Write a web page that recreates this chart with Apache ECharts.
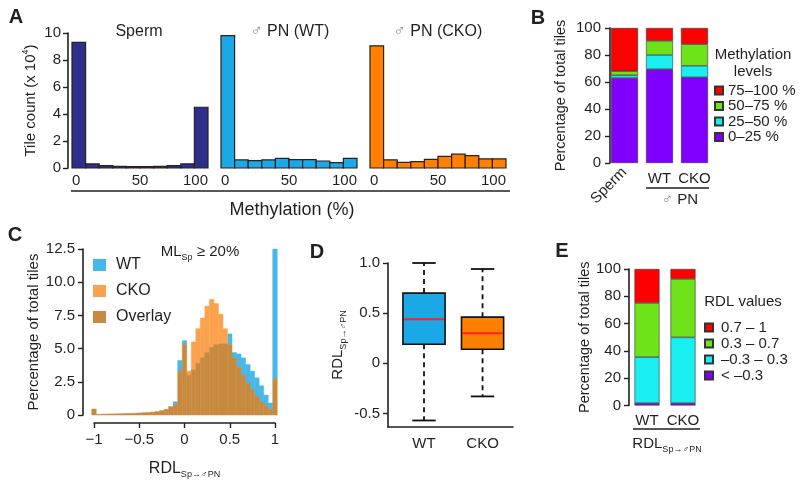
<!DOCTYPE html>
<html><head><meta charset="utf-8">
<script src="https://cdn.jsdelivr.net/npm/echarts@6/dist/echarts.min.js"></script>
<style>html,body{margin:0;padding:0;background:#fff}#c{width:800px;height:485px}</style>
</head><body><div id="c"></div>
<script>
// ---------- Panel A: methylation histograms (tile count x 10^4) ----------
const methBinStarts = [0, 10, 20, 30, 40, 50, 60, 70, 80, 90];
const methBinWidth = 10;
const spermCounts = [9.3, 0.3, 0.18, 0.12, 0.1, 0.1, 0.12, 0.17, 0.3, 4.5];
const wtCounts    = [9.8, 0.6, 0.55, 0.6, 0.72, 0.62, 0.62, 0.52, 0.4, 0.72];
const ckoCounts   = [9.05, 0.6, 0.42, 0.47, 0.64, 0.86, 1.03, 0.92, 0.68, 0.68];
const histTitles  = ['Sperm', '♂ PN (WT)', '♂ PN (CKO)'];

// ---------- Panel B: methylation levels (% of total tiles) ----------
const bCategories = ['Sperm', 'WT', 'CKO'];
const bLevels  = ['0–25 %', '25–50 %', '50–75 %', '75–100 %'];
const b0_25    = [63, 69.5, 63.5];
const b25_50   = [2, 10.5, 8.5];
const b50_75   = [3, 10.5, 16];
const b75_100  = [32, 9.5, 12];

// ---------- Panel C: RDL histogram (% of total tiles) ----------
const rdlBinWidth = 0.05;
const rdlBinCenters = [-1, -0.95, -0.9, -0.85, -0.8, -0.75, -0.7, -0.65, -0.6, -0.55, -0.5,
  -0.45, -0.4, -0.35, -0.3, -0.25, -0.2, -0.15, -0.1, -0.05, 0,
  0.05, 0.1, 0.15, 0.2, 0.25, 0.3, 0.35, 0.4, 0.45, 0.5,
  0.55, 0.6, 0.65, 0.7, 0.75, 0.8, 0.85, 0.9, 0.95, 1];
const rdlWT = [0.45, 0.05, 0.06, 0.07, 0.08, 0.09, 0.1, 0.11, 0.12, 0.13, 0.15,
  0.17, 0.19, 0.22, 0.26, 0.33, 0.43, 0.62, 1.0, 4.1, 5.6,
  3.0, 3.4, 3.9, 4.3, 4.7, 5.1, 5.3, 5.35, 5.35, 6.1,
  4.7, 4.6, 4.3, 3.8, 3.3, 2.8, 2.2, 1.5, 0.9, 12.5];
const rdlCKO = [0.45, 0.05, 0.06, 0.07, 0.08, 0.09, 0.1, 0.11, 0.12, 0.13, 0.15,
  0.17, 0.19, 0.22, 0.26, 0.33, 0.43, 0.6, 0.8, 3.3, 5.3,
  3.3, 5.5, 6.5, 7.3, 8.2, 8.7, 8.4, 7.6, 6.5, 5.3,
  4.3, 3.6, 3.0, 2.4, 1.9, 1.4, 1.0, 0.7, 0.4, 2.7];
const rdlTicks = [-1, -0.5, 0, 0.5, 1];

// ---------- Panel D: RDL boxplot [min, Q1, median, Q3, max] ----------
const boxCategories = ['WT', 'CKO'];
const boxWT  = [-0.57, 0.19, 0.44, 0.70, 1.0];
const boxCKO = [-0.33, 0.14, 0.30, 0.46, 0.94];
const boxTicks = [-0.5, 0, 0.5, 1];

// ---------- Panel E: RDL value classes (% of total tiles) ----------
const eCategories = ['WT', 'CKO'];
const eLevels   = ['< –0.3', '–0.3 – 0.3', '0.3 – 0.7', '0.7 – 1'];
const eLtNeg03  = [1.8, 1.8];
const eNeg03_03 = [33.7, 48.1];
const e03_07    = [39.6, 42.8];
const e07_1     = [24.9, 7.3];

// ================= styling / layout =================
const FONT = '"Liberation Sans", Arial, Helvetica, sans-serif';
const INK = '#231f20';
const axLine = {show: true, onZero: false, lineStyle: {color: INK, width: 1.6}};
const tickOut = {show: true, length: 5, lineStyle: {color: INK, width: 1.4}};
const lbl = (extra) => Object.assign({color: INK, fontSize: 15, fontFamily: FONT}, extra || {});
const noSplit = {show: false};
const levelColors = ['#7f00ff', '#19eef0', '#6ee31a', '#ff0000'];
const histColors = ['#2c2f8c', '#1aa8e6', '#ff8000'];
const cColors = {WT: '#46b8ea', CKO: '#fca24e', Overlay: '#c78a3f'};
const boxColors = ['#1aa8e6', '#ff8000'];

const grids = [
  {left: 72, top: 33, width: 136, height: 135},   // A sperm
  {left: 221, top: 33, width: 136, height: 135},  // A WT
  {left: 370, top: 33, width: 136, height: 135},  // A CKO
  {left: 607, top: 28, width: 105, height: 135},  // B
  {left: 94, top: 249, width: 181, height: 166},  // C
  {left: 388, top: 263, width: 125, height: 164}, // D
  {left: 629, top: 269, width: 72, height: 136.5} // E
];

const xAxes = [];
const yAxes = [];
// A axes
for (let g = 0; g < 3; g++) {
  xAxes.push({type: 'value', gridIndex: g, min: 0, max: 100, interval: 50,
    axisLine: {show: false}, axisTick: {show: false}, splitLine: noSplit,
    axisLabel: lbl({margin: 5, alignMinLabel: 'left', alignMaxLabel: 'right'})});
  yAxes.push({type: 'value', gridIndex: g, min: 0, max: 10, interval: 2, show: g === 0,
    offset: 4, axisLine: axLine, axisTick: tickOut, splitLine: noSplit,
    axisLabel: lbl({margin: 7}),
    name: g === 0 ? '{a|Tile count (x 10}{s|4}{a|)}' : '', nameLocation: 'middle', nameGap: 27,
    nameTextStyle: {rich: {a: {fontSize: 15, lineHeight: 20, color: INK, fontFamily: FONT},
      s: {fontSize: 9, lineHeight: 10, verticalAlign: 'top', color: INK, fontFamily: FONT}}}});
}
// B axes
xAxes.push({type: 'category', gridIndex: 3, data: bCategories, position: 'bottom',
  axisLine: {show: false}, axisTick: {show: false},
  axisLabel: lbl({rotate: 45, margin: 7, interval: 0, formatter: v => v === bCategories[0] ? v : ''})});
xAxes.push({type: 'category', gridIndex: 3, data: bCategories, position: 'bottom',
  axisLine: {show: false}, axisTick: {show: false},
  axisLabel: lbl({margin: 8, interval: 0, formatter: v => v === bCategories[0] ? '' : v})});
yAxes.push({type: 'value', gridIndex: 3, min: 0, max: 100, interval: 20, offset: -3,
  axisLine: axLine, axisTick: tickOut, splitLine: noSplit, axisLabel: lbl({margin: 9}),
  name: 'Percentage of total tiles', nameLocation: 'middle', nameGap: 42,
  nameTextStyle: {fontSize: 14.5, color: INK, fontFamily: FONT}});
// C axes
xAxes.push({type: 'value', gridIndex: 4, min: -1, max: 1, interval: 0.5, offset: 8,
  axisLine: axLine, axisTick: tickOut, splitLine: noSplit,
  axisLabel: lbl({margin: 9, formatter: v => v === 0 ? '0' : String(v).replace('-', '\u2212')}),
  name: '{a|RDL}{s|Sp→♂PN}', nameLocation: 'middle', nameGap: 36,
  nameTextStyle: {rich: {a: {fontSize: 16, lineHeight: 20, color: INK, fontFamily: FONT},
    s: {fontSize: 9, lineHeight: 10, verticalAlign: 'bottom', color: INK, fontFamily: FONT}}}});
yAxes.push({type: 'value', gridIndex: 4, min: 0, max: 12.5, interval: 2.5, offset: 11,
  axisLine: axLine, axisTick: tickOut, splitLine: noSplit,
  axisLabel: lbl({margin: 8, formatter: v => v === 0 ? '0' : v.toFixed(1)}),
  name: 'Percentage of total tiles', nameLocation: 'middle', nameGap: 42,
  nameTextStyle: {fontSize: 15, color: INK, fontFamily: FONT}});
// D axes
xAxes.push({type: 'value', gridIndex: 5, min: 0.385, max: 2.52,
  axisLine: axLine, axisTick: {show: false}, splitLine: noSplit,
  axisLabel: lbl({margin: 9, customValues: [1, 2], formatter: v => boxCategories[Math.round(v) - 1] || ''})});
yAxes.push({type: 'value', gridIndex: 5, min: -0.635, max: 1,
  axisLine: axLine, axisTick: Object.assign({customValues: boxTicks}, tickOut), splitLine: noSplit,
  axisLabel: lbl({margin: 8, customValues: boxTicks, formatter: v => v === 0 ? '0' : v.toFixed(1)}),
  name: '{a|RDL}{s|Sp→♂PN}', nameLocation: 'middle', nameGap: 40,
  nameTextStyle: {rich: {a: {fontSize: 15, lineHeight: 20, color: INK, fontFamily: FONT},
    s: {fontSize: 9, lineHeight: 10, verticalAlign: 'bottom', color: INK, fontFamily: FONT}}}});
// E axes
xAxes.push({type: 'category', gridIndex: 6, data: eCategories,
  axisLine: {show: false}, axisTick: {show: false}, axisLabel: lbl({margin: 8, interval: 0})});
yAxes.push({type: 'value', gridIndex: 6, min: 0, max: 100, interval: 20,
  axisLine: axLine, axisTick: tickOut, splitLine: noSplit, axisLabel: lbl({margin: 8}),
  name: 'Percentage of total tiles', nameLocation: 'middle', nameGap: 34,
  nameTextStyle: {fontSize: 14.5, color: INK, fontFamily: FONT}});

// ================= series =================
const series = [];
[spermCounts, wtCounts, ckoCounts].forEach((counts, g) => {
  series.push({type: 'custom', xAxisIndex: g, yAxisIndex: g, silent: true,
    data: methBinStarts.map((s, i) => [s, counts[i]]), encode: {x: 0, y: 1},
    renderItem: (p, api) => {
      const a = api.coord([api.value(0), api.value(1)]);
      const b = api.coord([api.value(0) + methBinWidth, 0]);
      return {type: 'rect', shape: {x: a[0], y: a[1], width: b[0] - a[0], height: b[1] - a[1]},
        style: {fill: histColors[g], stroke: '#2a201c', lineWidth: 1.2}};
    }});
});
[b0_25, b25_50, b50_75, b75_100].forEach((d, i) => {
  series.push({type: 'bar', name: bLevels[i], stack: 'B', xAxisIndex: 3, yAxisIndex: 3,
    barWidth: 27, data: d, itemStyle: {color: levelColors[i], borderColor: '#333', borderWidth: 0.6}});
});
const rdlData = rdlBinCenters.map((c, i) => [c, rdlWT[i], rdlCKO[i]]);
['WT', 'CKO', 'Overlay'].forEach(kind => {
  series.push({type: 'custom', name: kind, xAxisIndex: 5, yAxisIndex: 4, silent: true,
    itemStyle: {color: cColors[kind]}, data: rdlData, encode: {x: 0, y: [1, 2]},
    renderItem: (p, api) => {
      const x = api.value(0), wt = api.value(1), cko = api.value(2);
      let lo, hi;
      if (kind === 'Overlay') { lo = 0; hi = Math.min(wt, cko); }
      else if (kind === 'WT') { if (wt <= cko) return; lo = cko; hi = wt; }
      else { if (cko <= wt) return; lo = wt; hi = cko; }
      const a = api.coord([x - rdlBinWidth / 2, hi]);
      const b = api.coord([x + rdlBinWidth / 2, lo]);
      return {type: 'rect', shape: {x: a[0], y: a[1], width: b[0] - a[0], height: b[1] - a[1]},
        style: {fill: cColors[kind], stroke: cColors[kind], lineWidth: 0.5}};
    }});
});
series.push({type: 'custom', xAxisIndex: 6, yAxisIndex: 5, silent: true,
  data: [boxWT, boxCKO].map((b, i) => [i + 1].concat(b)), encode: {x: 0, y: [1, 2, 3, 4, 5]},
  renderItem: (p, api) => {
    const x = api.value(0);
    const y = k => api.coord([x, api.value(k)])[1];
    const cx = api.coord([x, 0])[0];
    const half = api.size([0.36, 0])[0], cap = api.size([0.2, 0])[0];
    const yLo = y(1), yQ1 = y(2), yMed = y(3), yQ3 = y(4), yHi = y(5);
    const dash = {stroke: '#111', lineWidth: 1.8, lineDash: [5, 4]};
    const solid = {stroke: '#111', lineWidth: 1.8};
    return {type: 'group', children: [
      {type: 'line', shape: {x1: cx, y1: yQ3, x2: cx, y2: yHi}, style: dash},
      {type: 'line', shape: {x1: cx, y1: yQ1, x2: cx, y2: yLo}, style: dash},
      {type: 'line', shape: {x1: cx - cap, y1: yHi, x2: cx + cap, y2: yHi}, style: solid},
      {type: 'line', shape: {x1: cx - cap, y1: yLo, x2: cx + cap, y2: yLo}, style: solid},
      {type: 'rect', shape: {x: cx - half, y: yQ3, width: 2 * half, height: yQ1 - yQ3},
        style: {fill: boxColors[p.dataIndex], stroke: '#111', lineWidth: 1.6}},
      {type: 'line', shape: {x1: cx - half + 1, y1: yMed, x2: cx + half - 1, y2: yMed},
        style: {stroke: '#ff2020', lineWidth: 2}}
    ]};
  }});
[eLtNeg03, eNeg03_03, e03_07, e07_1].forEach((d, i) => {
  series.push({type: 'bar', name: eLevels[i], stack: 'E', xAxisIndex: 7, yAxisIndex: 6,
    barWidth: 25, data: d, itemStyle: {color: levelColors[i], borderColor: '#333', borderWidth: 0.6}});
});

// ================= legends =================
const legends = [
  {data: bLevels.slice().reverse(), orient: 'vertical', left: 714, top: 83, itemWidth: 8, itemHeight: 8,
    itemGap: 0.5, icon: 'rect', selectedMode: false, padding: 0,
    textStyle: {fontSize: 15, lineHeight: 15, color: INK, fontFamily: FONT}},
  {data: eLevels.slice().reverse(), orient: 'vertical', left: 704, top: 320, itemWidth: 8, itemHeight: 8,
    itemGap: 1, icon: 'rect', selectedMode: false, padding: 0,
    textStyle: {fontSize: 15, lineHeight: 15, color: INK, fontFamily: FONT, padding: [0, 0, 0, 3]}},
  {data: ['WT', 'CKO', 'Overlay'], orient: 'vertical', left: 93, top: 257, itemWidth: 13, itemHeight: 12,
    itemGap: 10, icon: 'rect', selectedMode: false, padding: 0,
    textStyle: {fontSize: 16, lineHeight: 16, color: INK, fontFamily: FONT, padding: [0, 0, 0, 5]}}
];

// ================= free text / lines =================
const txt = (x, y, text, extra) => ({type: 'text', x, y, silent: true,
  style: Object.assign({text, fill: INK, fontFamily: FONT, fontSize: 15, align: 'center', verticalAlign: 'middle'}, extra || {})});
const ln = (x1, y1, x2, y2) => ({type: 'line', silent: true, shape: {x1, y1, x2, y2}, style: {stroke: INK, lineWidth: 1.6}});
const letter = (x, y, t) => txt(x, y, t, {fontSize: 20, fontWeight: 'bold'});
const maleRich = {g: {fill: '#8a8a8a', fontSize: 16, fontFamily: FONT}, t: {fontSize: 16, fill: INK, fontFamily: FONT}};
const titleText = (x, t) => t.startsWith('♂')
  ? txt(x, 32, '{g|♂}{t|' + t.slice(1) + '}', {rich: maleRich})
  : txt(x, 32, t, {fontSize: 16});
const rdlRich = {a: {fontSize: 15, lineHeight: 20, fill: INK, fontFamily: FONT},
  s: {fontSize: 9, lineHeight: 10, verticalAlign: 'bottom', fill: INK, fontFamily: FONT}};

const graphic = [
  letter(16, 17, 'A'), letter(538, 18, 'B'), letter(15, 235, 'C'), letter(317, 252, 'D'), letter(562, 251, 'E'),
  titleText(139, histTitles[0]), titleText(290, histTitles[1]), titleText(438, histTitles[2]),
  ln(71, 191, 510, 191),
  txt(292, 210, 'Methylation (%)', {fontSize: 18}),
  txt(753, 55, 'Methylation', {fontSize: 15}), txt(753, 72, 'levels', {fontSize: 15}),
  ln(646, 188, 709, 188),
  txt(680, 200, '{g|♂}{t| PN}', {rich: {g: {fill: '#8a8a8a', fontSize: 15, fontFamily: FONT}, t: {fontSize: 15, fill: INK, fontFamily: FONT}}}),
  txt(200, 252, '{a|ML}{s|Sp}{a| ≥ 20%}', {rich: rdlRich}),
  txt(743, 302, 'RDL values', {fontSize: 15}),
  ln(633, 429, 700, 429),
  txt(667, 444, '{a|RDL}{s|Sp→♂PN}', {rich: rdlRich})
];

const chart = echarts.init(document.getElementById('c'), null, {renderer: 'canvas'});
chart.setOption({
  animation: false,
  backgroundColor: '#fff',
  textStyle: {fontFamily: FONT},
  grid: grids,
  xAxis: xAxes,
  yAxis: yAxes,
  legend: legends,
  series,
  graphic
});
</script>
</body></html>
